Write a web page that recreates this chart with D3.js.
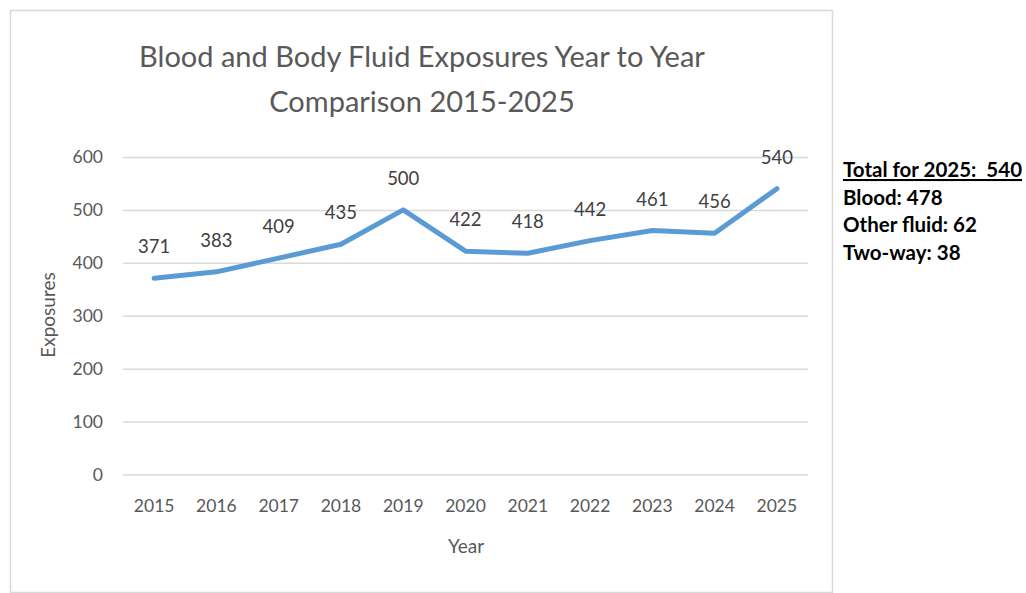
<!DOCTYPE html>
<html>
<head>
<meta charset="utf-8">
<style>
  * { margin: 0; padding: 0; box-sizing: border-box; }
  body { background: #fff; font-family: Lato, "Open Sans", sans-serif; }
  svg { display: block; }
</style>
</head>
<body>
<div id="chart"></div>
<script src="https://cdn.jsdelivr.net/npm/d3@7"></script>
<script>
// data
const years = ['2015', '2016', '2017', '2018', '2019', '2020', '2021', '2022', '2023', '2024', '2025'];
const exposures = [371, 383, 409, 435, 500, 422, 418, 442, 461, 456, 540];
const yTicks = [0, 100, 200, 300, 400, 500, 600];
const titleLines = ['Blood and Body Fluid Exposures Year to Year', 'Comparison 2015-2025'];
const noteLines = ['Total for 2025:  540', 'Blood: 478', 'Other fluid: 62', 'Two-way: 38'];

const width = 1026, height = 593;
const plot = { left: 123, right: 808, top: 157, bottom: 474.5 };

const svg = d3.select('#chart').append('svg')
  .attr('width', width).attr('height', height)
  .attr('viewBox', [0, 0, width, height]);

// chart frame
svg.append('rect')
  .attr('x', 10.5).attr('y', 10.5).attr('width', 822).attr('height', 582)
  .attr('fill', '#fff').attr('stroke', '#d9d9d9').attr('stroke-width', 1.5);

const x = d3.scaleBand().domain(years).range([plot.left, plot.right]);
const y = d3.scaleLinear().domain([0, 600]).range([plot.bottom, plot.top]);

// title
svg.append('g').selectAll('text')
  .data(titleLines)
  .join('text')
  .attr('x', 422).attr('y', function(d, i) { return 67 + i * 45; })
  .attr('text-anchor', 'middle')
  .attr('font-size', 29).attr('fill', '#595959')
  .text(function(d) { return d; });

// gridlines + y labels
const yAxis = d3.axisLeft(y).tickValues(yTicks).tickSize(-(plot.right - plot.left)).tickPadding(20);
const gy = svg.append('g').attr('transform', 'translate(' + plot.left + ',0)').call(yAxis);
gy.select('.domain').remove();
gy.selectAll('.tick line').attr('stroke', '#d9d9d9').attr('stroke-width', 1.5);
gy.selectAll('.tick text').attr('font-family', 'Lato').attr('font-size', 17.5).attr('fill', '#595959');

// x labels
const xAxis = d3.axisBottom(x).tickSize(0).tickPadding(25);
const gx = svg.append('g').attr('transform', 'translate(0,' + plot.bottom + ')').call(xAxis);
gx.select('.domain').remove();
gx.selectAll('.tick text').attr('font-family', 'Lato').attr('font-size', 17.5).attr('fill', '#595959');

// axis titles
svg.append('text')
  .attr('x', 466).attr('y', 553)
  .attr('text-anchor', 'middle').attr('font-size', 19).attr('fill', '#595959')
  .text('Year');
svg.append('text')
  .attr('transform', 'translate(55,315) rotate(-90)')
  .attr('text-anchor', 'middle').attr('font-size', 19).attr('fill', '#595959')
  .text('Exposures');

// line
const line = d3.line()
  .x(function(d, i) { return x(years[i]) + x.bandwidth() / 2; })
  .y(function(d) { return y(d); });
svg.append('path')
  .datum(exposures)
  .attr('d', line)
  .attr('fill', 'none').attr('stroke', '#5b9bd5').attr('stroke-width', 5)
  .attr('stroke-linejoin', 'round').attr('stroke-linecap', 'round');

// data labels
svg.append('g').selectAll('text')
  .data(exposures)
  .join('text')
  .attr('x', function(d, i) { return x(years[i]) + x.bandwidth() / 2; })
  .attr('y', function(d) { return y(d) - 25; })
  .attr('text-anchor', 'middle').attr('font-size', 18.5).attr('fill', '#404040')
  .text(function(d) { return d; });

// side note
const note = svg.append('g').selectAll('text')
  .data(noteLines)
  .join('text')
  .attr('x', 843).attr('y', function(d, i) { return 177 + i * 27.7; })
  .attr('font-size', 20.5).attr('font-weight', 'bold').attr('fill', '#000')
  .style('white-space', 'pre')
  .text(function(d) { return d; });
note.filter(function(d, i) { return i === 0; }).attr('text-decoration', 'underline');
</script>
</body>
</html>
